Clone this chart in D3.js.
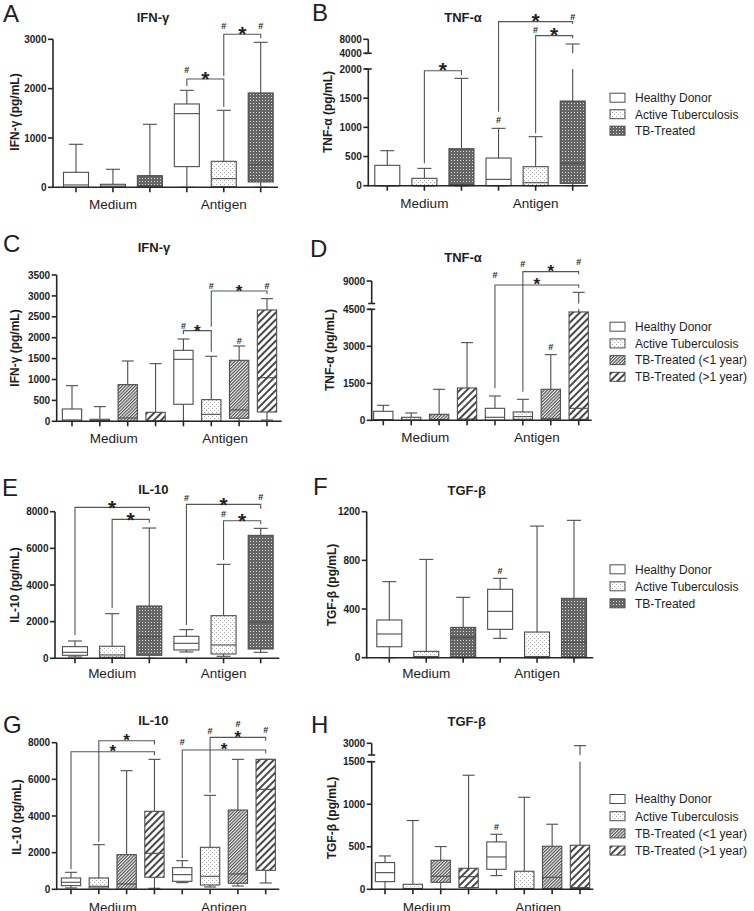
<!DOCTYPE html>
<html><head><meta charset="utf-8">
<script src="https://cdn.jsdelivr.net/npm/d3@7"></script>
<style>
body{margin:0;background:#fff}
svg{display:block}
text{font-family:Arial,"Liberation Sans",Helvetica,sans-serif;fill:#1e1e1e}
</style>
</head><body>
<svg id="chart" width="754" height="911"></svg>
<script>
// ---------------- DATA ----------------
const groups3 = ["Healthy Donor", "Active Tuberculosis", "TB-Treated"];
const groups4 = ["Healthy Donor", "Active Tuberculosis", "TB-Treated (<1 year)", "TB-Treated (>1 year)"];
const conditions = ["Medium", "Antigen"];

// box stats: [min, q1, median, q3, max]; order: Medium groups..., Antigen groups...
const ifngA = [
  [0, 0, 47, 304, 872], [0, 0, 25, 61, 365], [0, 0, 30, 236, 1277],
  [0, 419, 1493, 1689, 1966], [0, 10, 176, 527, 1561], [0, 108, 466, 1912, 2939]
];
const tnfaB = [
  [0, 0, 0, 349, 600], [0, 0, 0, 126, 297], [0, 0, 20, 634, 1840],
  [0, 0, 109, 474, 983], [0, 0, 51, 326, 840], [0, 40, 383, 1451, 6657]
];
const ifngC = [
  [0, 0, 32, 295, 853], [0, 0, 16, 48, 351], [0, 0, 80, 877, 1443], [0, 0, 10, 215, 1379],
  [0, 407, 1483, 1698, 1969], [0, 0, 167, 518, 1555], [0, 72, 271, 1459, 1802], [30, 223, 1044, 2663, 2934]
];
const tnfaD = [
  [0, 0, 30, 365, 608], [0, 0, 10, 122, 297], [0, 0, 30, 243, 1257], [0, 0, 54, 1311, 3149],
  [0, 0, 122, 486, 986], [0, 40, 149, 338, 851], [0, 0, 68, 1257, 2662], [0, 40, 486, 4392, 6733]
];
const il10E = [
  [73, 164, 327, 636, 945], [0, 55, 182, 655, 2436], [0, 164, 1182, 2855, 7109],
  [345, 455, 818, 1200, 1564], [109, 236, 727, 2327, 5127], [327, 509, 1964, 6709, 7091]
];
const tgfbF = [
  [0, 90, 195, 310, 625], [0, 0, 10, 52, 808], [0, 8, 167, 249, 496],
  [159, 233, 381, 562, 652], [0, 0, 10, 211, 1082], [0, 8, 126, 488, 1129]
];
const il10G = [
  [73, 200, 382, 618, 927], [0, 73, 164, 618, 2436], [0, 0, 291, 1891, 6473], [55, 655, 1964, 4255, 7091],
  [364, 436, 800, 1182, 1564], [127, 236, 709, 2291, 5127], [182, 327, 836, 4327, 7091], [345, 1036, 5455, 7091, 7091]
];
const tgfbH = [
  [0, 90, 196, 314, 392], [0, 0, 10, 59, 808], [0, 82, 153, 341, 502], [0, 20, 149, 247, 1341],
  [161, 235, 380, 557, 647], [0, 0, 10, 212, 1082], [0, 10, 141, 506, 765], [0, 10, 20, 518, 2700]
];

// tick values
const ticksA = [0, 1000, 2000, 3000];
const ticksB = [0, 500, 1000, 1500, 2000, 4000, 8000];
const ticksC = [0, 500, 1000, 1500, 2000, 2500, 3000, 3500];
const ticksD = [0, 1500, 3000, 4500, 9000];
const ticksE = [0, 2000, 4000, 6000, 8000];
const ticksF = [0, 400, 800, 1200];
const ticksG = [0, 2000, 4000, 6000, 8000];
const ticksH = [0, 500, 1000, 1500, 3000];

// significance brackets: [fromBox, toBox, bracketValue, leftLegEndValue, rightLegEndValue]
const sigA = [[3, 4, 2196, 2054, 1635], [4, 5, 3101, 2257, 3020]];
const sigB = [[1, 2, 1971, 383, 1897], [3, 5, 13048, 1269, 12381], [4, 5, 9048, 897, 8286]];
const sigC = [[4, 5, 2169, 2089, 1666], [5, 7, 3117, 2264, 3046]];
const sigD = [[4, 7, 8200, 1297, 7667], [5, 7, 10867, 1162, 10333]];
const sigE = [[0, 2, 8236, 1273, 8036], [1, 2, 7581, 2727, 7399], [3, 5, 8400, 1818, 8163], [4, 5, 7509, 5363, 7327]];
const sigF = [];
const sigG = [[1, 3, 8109, 2600, 7908], [0, 3, 7509, 1091, 7309], [4, 7, 7600, 1691, 7418], [5, 7, 8290, 5272, 8109]];
const sigH = [];

// "#" marks: [box, value]
const hashA = [[3, 2392], [4, 3277], [5, 3277]];
const hashB = [[3, 1126], [5, 14476], [4, 10667]];
const hashC = [[4, 2280], [5, 3245], [7, 3245], [6, 1929]];
const hashD = [[4, 10200], [5, 12533], [7, 12867], [6, 2986]];
const hashE = [[3, 8781], [5, 8817], [4, 7908]];
const hashF = [[3, 715]];
const hashG = [[4, 8036], [5, 8654], [7, 8690], [6, 9017]];
const hashH = [[4, 737]];

// ---------------- LAYOUT ----------------
const panels = [
  {letter: "A", title: "IFN-\u03b3", ylab: "IFN-\u03b3 (pg/mL)", groups: groups3, stats: ifngA, ticks: ticksA, sig: sigA, hash: hashA,
   L: {lx: 3, ly: 22, tx: 153, ty: 21.5, yx: 19, yy: 112, ax: [53, 278], centers: [76, 260.7],
       segs: [{d: [0, 3000], r: [187.3, 39.3]}], bw: 25, cw: 14, gly: 208.5, ss: 21, so: 5.7}},
  {letter: "B", title: "TNF-\u03b1", ylab: "TNF-\u03b1 (pg/mL)", groups: groups3, stats: tnfaB, ticks: ticksB, sig: sigB, hash: hashB,
   L: {lx: 312, ly: 21, tx: 463, ty: 21.5, yx: 332, yy: 112, ax: [368.3, 588], centers: [387.3, 572.7],
       segs: [{d: [0, 2000], r: [185.7, 69]}, {d: [4000, 8000], r: [53.3, 39.3]}], bw: 25, cw: 14, gly: 207.5, ss: 21, so: 5.7,
       legend: {x: 610, y: 97.7, step: 16.5}}},
  {letter: "C", title: "IFN-\u03b3", ylab: "IFN-\u03b3 (pg/mL)", groups: groups4, stats: ifngC, ticks: ticksC, sig: sigC, hash: hashC,
   L: {lx: 3, ly: 252, tx: 154, ty: 251.5, yx: 19, yy: 348, ax: [56.7, 281.7], centers: [72, 267],
       segs: [{d: [0, 3500], r: [421.3, 275]}], bw: 19.3, cw: 12, gly: 442.5, ss: 17, so: 3.5}},
  {letter: "D", title: "TNF-\u03b1", ylab: "TNF-\u03b1 (pg/mL)", groups: groups4, stats: tnfaD, ticks: ticksD, sig: sigD, hash: hashD,
   L: {lx: 310, ly: 256.5, tx: 463, ty: 262, yx: 334, yy: 350, ax: [371.7, 591.7], centers: [383.3, 578.7],
       segs: [{d: [0, 4500], r: [420.3, 309.3]}, {d: [4500, 9000], r: [303.5, 281]}], bw: 19.3, cw: 12, gly: 441.5, ss: 17, so: 5,
       legend: {x: 610, y: 326.7, step: 16.7}}},
  {letter: "E", title: "IL-10", ylab: "IL-10 (pg/mL)", groups: groups3, stats: il10E, ticks: ticksE, sig: sigE, hash: hashE,
   L: {lx: 2, ly: 496, tx: 153.3, ty: 493.5, yx: 19, yy: 585, ax: [55, 279.3], centers: [75, 260.7],
       segs: [{d: [0, 8000], r: [658.3, 511.7]}], bw: 25, cw: 14, gly: 678, ss: 21, so: 4.7}},
  {letter: "F", title: "TGF-\u03b2", ylab: "TGF-\u03b2 (pg/mL)", groups: groups3, stats: tgfbF, ticks: ticksF, sig: sigF, hash: hashF,
   L: {lx: 313, ly: 495, tx: 466.7, ty: 494.5, yx: 335.5, yy: 585, ax: [366.7, 593.3], centers: [389.3, 574],
       segs: [{d: [0, 1200], r: [657.7, 511.7]}], bw: 25, cw: 14, gly: 678, ss: 21, so: 5,
       legend: {x: 610, y: 569.3, step: 17}}},
  {letter: "G", title: "IL-10", ylab: "IL-10 (pg/mL)", groups: groups4, stats: il10G, ticks: ticksG, sig: sigG, hash: hashG,
   L: {lx: 3, ly: 733, tx: 153.3, ty: 725.2, yx: 20.5, yy: 817, ax: [56.7, 279.3], centers: [71, 265.7],
       segs: [{d: [0, 8000], r: [889.3, 742.7]}], bw: 19.3, cw: 12, gly: 911.5, ss: 17, so: 4.5}},
  {letter: "H", title: "TGF-\u03b2", ylab: "TGF-\u03b2 (pg/mL)", groups: groups4, stats: tgfbH, ticks: ticksH, sig: sigH, hash: hashH,
   L: {lx: 311, ly: 733, tx: 466.7, ty: 726.2, yx: 335.5, yy: 818, ax: [371.7, 593.3], centers: [385, 580],
       segs: [{d: [0, 1500], r: [889.3, 761.7]}, {d: [1500, 3000], r: [755, 743.3]}], bw: 19.3, cw: 12, gly: 911.5, ss: 17, so: 5,
       legend: {x: 610, y: 799, step: 17.2}}}
];

// ---------------- RENDER ----------------
const svg = d3.select("#chart");
svg.append("rect").attr("width", 754).attr("height", 911).attr("fill", "#fff");
const defs = svg.append("defs");

function pattern(id, w, h, rot) {
  const p = defs.append("pattern").attr("id", id).attr("patternUnits", "userSpaceOnUse")
    .attr("width", w).attr("height", h);
  if (rot) p.attr("patternTransform", `rotate(${rot})`);
  return p;
}
// Active Tuberculosis: sparse dots
const pAT = pattern("pAT", 4, 4);
pAT.append("rect").attr("width", 4).attr("height", 4).attr("fill", "#fff");
pAT.append("rect").attr("x", 0).attr("y", 0).attr("width", 1).attr("height", 1).attr("fill", "#a8a8a8");
pAT.append("rect").attr("x", 2).attr("y", 2).attr("width", 1).attr("height", 1).attr("fill", "#a8a8a8");
// TB-Treated: dense dark mesh
const pTB = pattern("pTB", 3, 3);
pTB.append("rect").attr("width", 3).attr("height", 3).attr("fill", "#656565");
pTB.append("rect").attr("x", 1).attr("y", 1).attr("width", 1).attr("height", 1).attr("fill", "#dcdcdc");
// TB-Treated (<1 year): dense thin diagonals
const pT1 = pattern("pT1", 2.3, 10, 45);
pT1.append("rect").attr("width", 2.3).attr("height", 10).attr("fill", "#f4f4f4");
pT1.append("line").attr("x1", 0.6).attr("x2", 0.6).attr("y1", 0).attr("y2", 10).attr("stroke", "#474747").attr("stroke-width", 1.1);
// TB-Treated (>1 year): sparse thick diagonals
const pT2 = pattern("pT2", 5, 10, 45);
pT2.append("rect").attr("width", 5).attr("height", 10).attr("fill", "#fff");
pT2.append("line").attr("x1", 1).attr("x2", 1).attr("y1", 0).attr("y2", 10).attr("stroke", "#1a1a1a").attr("stroke-width", 1.6);

const fillOf = g => ({
  "Healthy Donor": "#fff",
  "Active Tuberculosis": "url(#pAT)",
  "TB-Treated": "url(#pTB)",
  "TB-Treated (<1 year)": "url(#pT1)",
  "TB-Treated (>1 year)": "url(#pT2)"
})[g];

const STROKE = "#4d4d4d";
const AXIS = "#262626";

function drawPanel(P) {
  const L = P.L;
  const segScales = L.segs.map(s => d3.scaleLinear().domain(s.d).range(s.r));
  const y = v => {
    if (segScales.length === 1) return segScales[0](v);
    const lo = segScales[0], hi = segScales[1];
    if (v <= lo.domain()[1]) return lo(v);
    if (v < hi.domain()[0]) return lo.range()[1];
    return hi(v);
  };
  const n = P.groups.length;
  const ids = d3.range(2 * n);
  const x = d3.scalePoint().domain(ids).range(L.centers);
  const g = svg.append("g");
  const y0 = y(0);
  const ax = L.ax[0];

  // letter, title, y label
  g.append("text").attr("x", L.lx).attr("y", L.ly).attr("font-size", 24).text(P.letter);
  g.append("text").attr("x", L.tx).attr("y", L.ty).attr("text-anchor", "middle")
    .attr("font-size", 13).attr("font-weight", "bold").text(P.title);
  g.append("text").attr("transform", `translate(${L.yx},${L.yy}) rotate(-90)`).attr("text-anchor", "middle")
    .attr("font-size", 12).attr("font-weight", "bold").text(P.ylab);

  // boxes
  const bg = g.append("g");
  P.stats.forEach((s, i) => {
    const [mn, q1, md, q3, mx] = s;
    const cx = x(i), hw = L.bw / 2, cw = L.cw / 2;
    const grp = P.groups[i % n];
    const line = (x1, y1, x2, y2) => bg.append("line").attr("x1", x1).attr("y1", y1).attr("x2", x2).attr("y2", y2)
      .attr("stroke", STROKE).attr("stroke-width", 1.1);
    if (segScales.length > 1 && mx > segScales[0].domain()[1]) {
      line(cx, y(q3), cx, segScales[0].range()[1]);
      line(cx, segScales[1].range()[0], cx, y(mx));
    } else {
      line(cx, y(q3), cx, y(mx));
    }
    line(cx - cw, y(mx), cx + cw, y(mx));
    line(cx, y(q1), cx, y(mn));
    line(cx - cw, y(mn), cx + cw, y(mn));
    bg.append("rect").attr("x", cx - hw).attr("y", y(q3)).attr("width", L.bw).attr("height", Math.max(0, y(q1) - y(q3)))
      .attr("fill", fillOf(grp)).attr("stroke", STROKE).attr("stroke-width", 1.1);
    line(cx - hw, y(md), cx + hw, y(md));
  });

  // axes
  const ag = g.append("g").attr("stroke", AXIS).attr("stroke-width", 1.6).attr("fill", "none");
  segScales.forEach((sc, k) => {
    const r = sc.range();
    ag.append("line").attr("x1", ax).attr("x2", ax).attr("y1", r[0] + (k === 0 ? 0.8 : 0)).attr("y2", r[1]);
    if (segScales.length > 1) {
      const yc = k === 0 ? r[1] : r[0];
      ag.append("line").attr("x1", ax - 3.5).attr("x2", ax + 3.5).attr("y1", yc).attr("y2", yc);
    }
  });
  ag.append("line").attr("x1", ax).attr("x2", L.ax[1]).attr("y1", y0).attr("y2", y0);
  P.ticks.forEach(t => {
    ag.append("line").attr("x1", ax - 5).attr("x2", ax).attr("y1", y(t)).attr("y2", y(t));
    g.append("text").attr("x", ax - 6.5).attr("y", y(t) + 3.6).attr("text-anchor", "end")
      .attr("font-size", 10).attr("font-weight", "bold").text(t);
  });
  ids.forEach(i => {
    ag.append("line").attr("x1", x(i)).attr("x2", x(i)).attr("y1", y0).attr("y2", y0 + 5);
  });
  conditions.forEach((c, k) => {
    const cx = d3.mean(ids.slice(k * n, k * n + n), i => x(i));
    g.append("text").attr("x", cx).attr("y", L.gly).attr("text-anchor", "middle").attr("font-size", 13.5).text(c);
  });

  // significance brackets
  const sg = g.append("g");
  P.sig.forEach(([a, b, v, la, lb]) => {
    sg.append("path").attr("d", `M${x(a)},${y(la)}V${y(v)}H${x(b)}V${y(lb)}`)
      .attr("fill", "none").attr("stroke", "#555").attr("stroke-width", 1.1);
    sg.append("text").attr("x", (x(a) + x(b)) / 2).attr("y", y(v) - L.so + 0.585 * L.ss)
      .attr("text-anchor", "middle").attr("font-size", L.ss).attr("font-weight", "bold").text("*");
  });
  P.hash.forEach(([b, v]) => {
    sg.append("text").attr("x", x(b)).attr("y", y(v) + 3.3).attr("text-anchor", "middle")
      .attr("font-size", 9).attr("font-weight", "bold").text("#");
  });

  // legend
  if (L.legend) {
    const lg = g.append("g");
    P.groups.forEach((grp, k) => {
      const cy = L.legend.y + k * L.legend.step;
      lg.append("rect").attr("x", L.legend.x).attr("y", cy - 4.5).attr("width", 15).attr("height", 9)
        .attr("fill", fillOf(grp)).attr("stroke", STROKE).attr("stroke-width", 1);
      lg.append("text").attr("x", L.legend.x + 25).attr("y", cy + 4.3).attr("font-size", 12).text(grp);
    });
  }
}

panels.forEach(drawPanel);
</script>
</body></html>
